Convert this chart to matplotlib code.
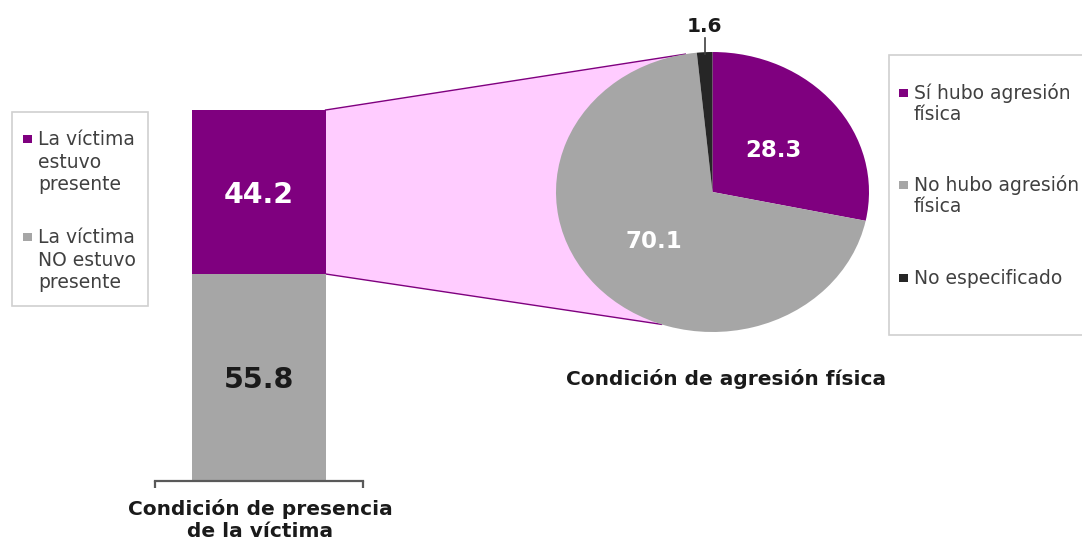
import matplotlib
matplotlib.use('Agg')
import matplotlib.pyplot as plt
from matplotlib.patches import Polygon, Rectangle
from matplotlib.lines import Line2D
import numpy as np

# ---------------- data ----------------
presence_labels = ["La víctima\nestuvo\npresente", "La víctima\nNO estuvo\npresente"]
presence_values = [44.2, 55.8]
presence_title = ["Condición de presencia", "de la víctima"]

aggression_labels = ["Sí hubo agresión\nfísica", "No hubo agresión\nfísica", "No especificado"]
aggression_values = [28.3, 70.1, 1.6]
aggression_title = "Condición de agresión física"

# ---------------- style ----------------
PURPLE = '#7F007F'
GRAY = '#A6A6A6'
BLACK = '#262626'
PINK = '#FFCCFF'
presence_colors = [PURPLE, GRAY]
presence_text_colors = ['white', '#1A1A1A']
aggression_colors = [PURPLE, GRAY, BLACK]
legend_text_color = '#404040'

plt.rcParams['font.family'] = ['DejaVu Sans']

W, H = 1082, 539
fig = plt.figure(figsize=(W / 100, H / 100), dpi=100)


def box(x0, y0, x1, y1):
    """pixel box (top-left origin) -> figure fraction rect"""
    return [x0 / W, 1 - y1 / H, (x1 - x0) / W, (y1 - y0) / H]


def fx(x):
    return x / W


def fy(y):
    return 1 - y / H


# ---------------- stacked bar ----------------
ax_bar = fig.add_axes(box(155, 110, 363, 481))
ax_bar.set_facecolor('none')
bars = {}
bottom = 0.0
for i in [1, 0]:  # gray at the bottom, purple on top
    b = ax_bar.bar(0, presence_values[i], width=0.64, bottom=bottom,
                   color=presence_colors[i], zorder=2)[0]
    bars[i] = b
    ax_bar.text(0, bottom + presence_values[i] / 2, f'{presence_values[i]:.1f}',
                ha='center', va='center_baseline', fontsize=20.5, fontweight='bold',
                color=presence_text_colors[i], zorder=3)
    bottom += presence_values[i]
ax_bar.set_xlim(-0.5, 0.5)
ax_bar.set_ylim(0, 100)
for s in ['top', 'right', 'left']:
    ax_bar.spines[s].set_visible(False)
ax_bar.spines['bottom'].set_color('#595959')
ax_bar.spines['bottom'].set_linewidth(1.6)
ax_bar.set_xticks([-0.5, 0.5])
ax_bar.set_xticklabels([])
ax_bar.set_yticks([])
ax_bar.tick_params(axis='x', direction='out', length=5, width=1.6, color='#595959')

fig.text(fx(260), fy(515), presence_title[0], ha='center', va='baseline',
         fontsize=14.5, fontweight='bold', color='#1A1A1A')
fig.text(fx(260), fy(537), presence_title[1], ha='center', va='baseline',
         fontsize=14.5, fontweight='bold', color='#1A1A1A')

# ---------------- pie ----------------
ax_pie = fig.add_axes(box(556, 52, 869, 332))
wedges, _ = ax_pie.pie(aggression_values, colors=aggression_colors, startangle=90,
                       counterclock=False, radius=1)
ax_pie.set_aspect('auto')
ax_pie.set_xlim(-1, 1)
ax_pie.set_ylim(-1, 1)
ax_pie.axis('off')
ax_pie.set_facecolor('none')

for k, (w, v) in enumerate(zip(wedges, aggression_values)):
    mid = np.deg2rad((w.theta1 + w.theta2) / 2)
    if v >= 5:
        ax_pie.text(0.5 * np.cos(mid), 0.5 * np.sin(mid), f'{v:.1f}', ha='center',
                    va='center_baseline', fontsize=16.5, fontweight='bold', color='white')
    else:
        x = np.cos(mid)
        ax_pie.plot([x, x], [np.sin(mid) * 0.99, 1.1], color='#404040', lw=1.2,
                    clip_on=False)
        ax_pie.text(x, 1.115, f'{v:.1f}', ha='center', va='bottom', fontsize=14.5,
                    fontweight='bold', color='#1A1A1A', clip_on=False)

fig.text(fx(726), fy(385), aggression_title, ha='center', va='baseline',
         fontsize=14.5, fontweight='bold', color='#1A1A1A')

# ---------------- connector (bar of pie) ----------------
inv = fig.transFigure.inverted()


def to_fig(ax, pt):
    return inv.transform(ax.transData.transform(pt))


purple_bar = bars[0]
bx = purple_bar.get_x() + purple_bar.get_width()
p_top_bar = to_fig(ax_bar, (bx, purple_bar.get_y() + purple_bar.get_height()))
p_mid_bar = to_fig(ax_bar, (bx, purple_bar.get_y()))
a_top, a_bot = np.deg2rad(100), np.deg2rad(251)
p_top_pie = to_fig(ax_pie, (np.cos(a_top), np.sin(a_top)))
p_bot_pie = to_fig(ax_pie, (np.cos(a_bot), np.sin(a_bot)))
p_center = to_fig(ax_pie, (0, 0))

fig.add_artist(Polygon([p_top_bar, p_top_pie, p_center, p_bot_pie, p_mid_bar],
                       closed=True, transform=fig.transFigure, facecolor=PINK,
                       edgecolor='none', zorder=-2))
for a, b in [(p_top_bar, p_top_pie), (p_mid_bar, p_bot_pie)]:
    fig.add_artist(Line2D([a[0], b[0]], [a[1], b[1]], transform=fig.transFigure,
                          color=PURPLE, lw=1.0, zorder=-1))

# ---------------- legends (drawn by hand) ----------------
LEG_FS = 13.5


def legend(box_px, entries, colors, marker_x, text_x, first_baselines, step):
    x0, y0, x1, y1 = box_px
    fig.add_artist(Rectangle((fx(x0), fy(y1)), (x1 - x0) / W, (y1 - y0) / H,
                             transform=fig.transFigure, facecolor='white',
                             edgecolor='#D0D0D0', lw=1.2, zorder=1))
    for lab, col, base in zip(entries, colors, first_baselines):
        mx, my = marker_x, base - 6
        fig.add_artist(Rectangle((fx(mx - 4.5), fy(my + 4)), 9 / W, 8 / H,
                                 transform=fig.transFigure, facecolor=col,
                                 edgecolor='none', zorder=2))
        for j, line in enumerate(lab.split('\n')):
            fig.text(fx(text_x), fy(base + j * step), line, ha='left', va='baseline',
                     fontsize=LEG_FS, color=legend_text_color, zorder=3)


legend((12, 112, 148, 306), presence_labels, presence_colors,
       27.5, 38, [145, 243], 22.5)
legend((889, 55, 1100, 335), aggression_labels, aggression_colors,
       903, 914, [99, 191, 284], 21)

fig.savefig('out.png', dpi=100, facecolor='white')
